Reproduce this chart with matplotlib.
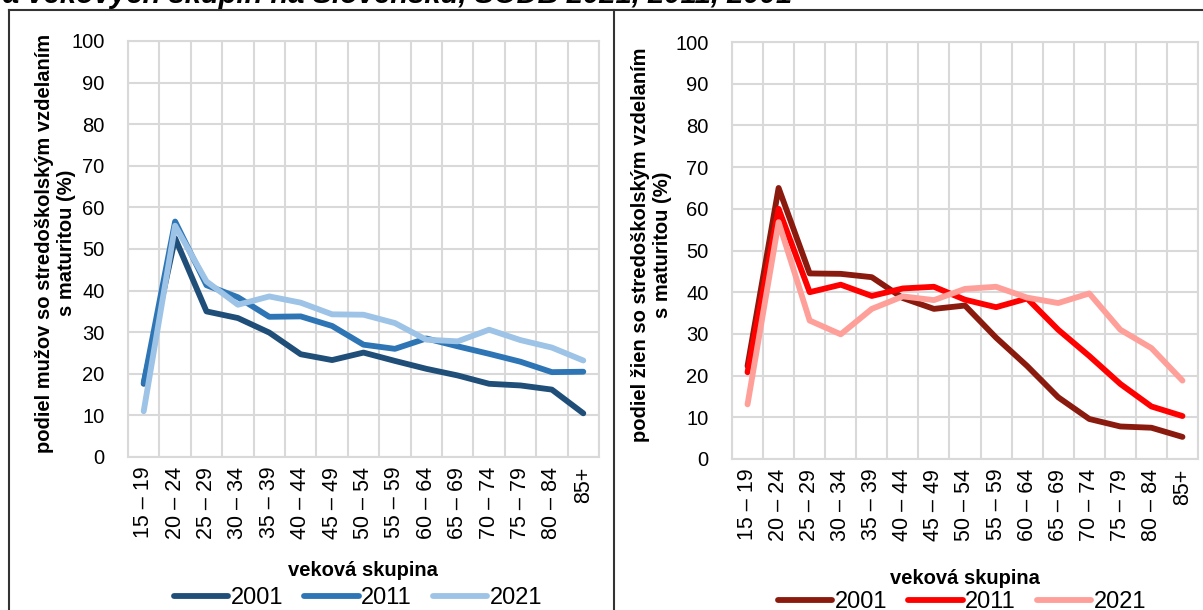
import matplotlib
matplotlib.use("Agg")
import matplotlib.pyplot as plt
from matplotlib.lines import Line2D
import numpy as np

plt.rcParams['font.family'] = ['Liberation Sans', 'DejaVu Sans']

age_groups = ["15 – 19", "20 – 24", "25 – 29", "30 – 34", "35 – 39", "40 – 44", "45 – 49",
              "50 – 54", "55 – 59", "60 – 64", "65 – 69", "70 – 74", "75 – 79", "80 – 84", "85+"]
years = ["2001", "2011", "2021"]

men_2001 = [17.6, 52.6, 35.0, 33.4, 29.9, 24.7, 23.3, 25.1, 23.1, 21.2, 19.6, 17.6, 17.2, 16.2, 10.5]
men_2011 = [17.8, 56.6, 41.3, 38.4, 33.7, 33.8, 31.5, 27.0, 26.0, 28.5, 26.6, 24.8, 22.9, 20.4, 20.5]
men_2021 = [11.0, 55.6, 42.2, 36.6, 38.6, 37.1, 34.3, 34.2, 32.2, 28.2, 27.8, 30.6, 28.1, 26.3, 23.2]

women_2001 = [22.3, 65.0, 44.5, 44.4, 43.6, 38.6, 36.0, 36.8, 29.1, 22.3, 14.8, 9.6, 7.8, 7.5, 5.3]
women_2011 = [20.8, 60.0, 40.0, 41.8, 39.1, 40.9, 41.3, 38.2, 36.4, 38.5, 31.0, 24.7, 18.0, 12.6, 10.3]
women_2021 = [13.1, 56.8, 33.2, 29.9, 36.0, 39.0, 38.1, 40.8, 41.3, 38.7, 37.4, 39.7, 31.0, 26.6, 18.8]

blues = ["#1F4E79", "#2E75B6", "#9DC3E6"]
reds = ["#8B1A0E", "#FF0000", "#FF9F99"]

W, H = 1203, 610
fig = plt.figure(figsize=(W / 100, H / 100), dpi=100)


def px_axes(x0, y0, x1, y1):
    return fig.add_axes([x0 / W, 1 - y1 / H, (x1 - x0) / W, (y1 - y0) / H])


def draw_panel(ax, series, colors):
    x = np.arange(len(age_groups))
    for vals, c, lab in zip(series, colors, years):
        ax.plot(x, vals, color=c, lw=4.2, label=lab, solid_capstyle='round',
                solid_joinstyle='round', zorder=3)
    ax.set_xlim(-0.5, len(age_groups) - 0.5)
    ax.set_ylim(0, 100)
    ax.set_yticks(range(0, 101, 10))
    ax.set_xticks(x)
    ax.set_xticklabels(age_groups, rotation=90, fontsize=15.5)
    ax.set_xticks(np.arange(-0.5, len(age_groups), 1), minor=True)
    ax.tick_params(axis='y', labelsize=14.5, length=0, pad=17)
    ax.tick_params(axis='x', which='both', length=0, pad=7)
    ax.grid(True, which='minor', axis='x', color='#D9D9D9', lw=1.5)
    ax.grid(True, which='major', axis='y', color='#D9D9D9', lw=1.5)
    for s in ax.spines.values():
        s.set_color('#D9D9D9')
        s.set_linewidth(1.5)


ax1 = px_axes(128, 41, 599, 457)
draw_panel(ax1, [men_2001, men_2011, men_2021], blues)
ax2 = px_axes(732, 42, 1198, 459)
draw_panel(ax2, [women_2001, women_2011, women_2021], reds)

# panel frames
fig.add_artist(Line2D([9 / W, 9 / W], [1 - 10 / H, 0], color='#333333', lw=1.5))
fig.add_artist(Line2D([614 / W, 614 / W], [1 - 10 / H, 0], color='#333333', lw=1.5))
fig.add_artist(Line2D([9 / W, 1], [1 - 10 / H, 1 - 10 / H], color='#333333', lw=1.5))

# cut-off title
fig.text(3 / W, 1 - 3 / H, "a vekových skupín na Slovensku, SODB 2021, 2011, 2001",
         fontsize=21, fontweight='bold', fontstyle='italic', va='baseline', ha='left')

fig.text(56 / W, 1 - 243 / H, "podiel mužov so stredoškolským vzdelaním\ns maturitou (%)",
         rotation=90, ha='center', va='center', fontsize=14.5, fontweight='bold',
         multialignment='center', linespacing=1.2)
fig.text(651 / W, 1 - 245 / H, "podiel žien so stredoškolským vzdelaním\ns maturitou (%)",
         rotation=90, ha='center', va='center', fontsize=14.5, fontweight='bold',
         multialignment='center', linespacing=1.2)

fig.text(363 / W, 1 - 570 / H, "veková skupina", ha='center', va='center',
         fontsize=14.5, fontweight='bold')
fig.text(965 / W, 1 - 578 / H, "veková skupina", ha='center', va='center',
         fontsize=14.5, fontweight='bold')

for ax, cx, cy in [(ax1, 358, 598), (ax2, 962, 602)]:
    h, l = ax.get_legend_handles_labels()
    fig.legend(h, l, loc='center', bbox_to_anchor=(cx / W, 1 - cy / H), ncol=3,
               frameon=False, fontsize=17, handlelength=2.3, handletextpad=0.1,
               columnspacing=0.9, borderpad=0)

fig.savefig("out.png", dpi=100)
